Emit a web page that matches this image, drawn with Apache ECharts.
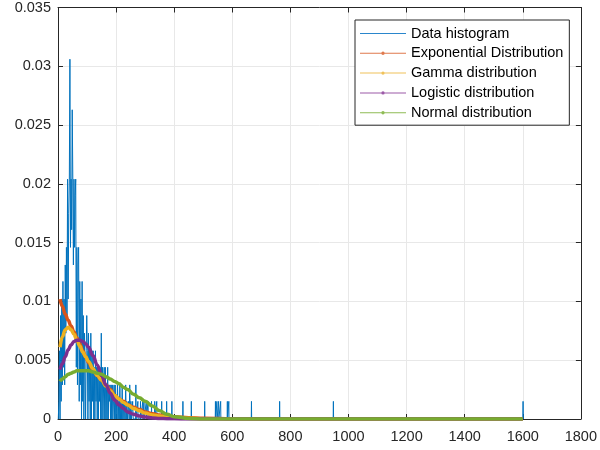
<!DOCTYPE html>
<html>
<head>
<meta charset="utf-8">
<script src="https://cdn.jsdelivr.net/npm/echarts@6/dist/echarts.min.js"></script>
<style>
html,body{margin:0;padding:0;background:#fff;}
#chart{width:600px;height:450px;}
</style>
</head>
<body>
<div id="chart"></div>
<script>
// ---- Data histogram (dense part: bin centers and densities) ----
const histBinCenters = [1,3,5,7,9,11,13,15,17,19,21,23,25,27,29,31,33,35,37,39,41,43,45,47,49,51,53,55,57,59,61,63,65,67,69,71,73,75,77,79,81,83,85,87,89,91,93,95,97,99,101,103,105,107,109,111,113,115,117,119,121,123,125,127,129,131,133,135,137,139,141,143,145,147,149,151,153,155,157,159,161,163,165,167,169,171,173,175,177,179,181,183,185,187,189,191,193,195,197,199,201,203,205,207,209,211,213,215,217,219,221,223,225,227,229,231,233,235,237,239,241,243,245,247,249,251,253,255,257,259];
const histDensity = [
  0,0.0015,0.0058,0,0.0088,0.0015,0.0102,0.0029,0.0117,0.0044,
  0.0102,0.0029,0.0131,0.0073,0.0146,0.0088,0.0204,0.0102,0.0175,0.0204,
  0.0306,0.0146,0.0204,0.0161,0.0263,0.0204,0.0131,0.0204,0.0146,0.0190,
  0.0204,0.0044,0.0146,0.0029,0.0131,0.0146,0.0015,0.0117,0.0029,0.0102,
  0,0.0117,0.0015,0.0088,0,0.0073,0.0073,0,0.0058,0.0088,
  0.0058,0,0.0073,0.0015,0.0058,0,0.0073,0,0.0058,0.0015,
  0.0058,0,0.0044,0,0.0058,0.0015,0.0044,0,0.0044,0,
  0.0044,0.0015,0.0044,0,0.0073,0,0.0044,0,0.0029,0.0044,
  0,0.0044,0,0.0029,0,0.0044,0,0.0029,0.0015,0.0029,
  0,0.0029,0,0.0029,0,0.0015,0.0029,0,0.0029,0,
  0.0015,0,0.0029,0,0.0015,0,0.0029,0,0.0015,0,
  0.0029,0,0.0015,0,0.0015,0,0.0029,0,0.0015,0,
  0,0.0015,0,0.0029,0,0.0015,0,0,0.0015,0
];
// ---- Data histogram (sparse tail: isolated bins) ----
const tailBinCenters = [268,275,284,292,296,304,310,322,333,340,357,374,392,430,459,505,542,547,553,560,583,588,666,763,948,1601];
const tailDensity = [0.0029,0.0015,0.0015,0.0015,0.0015,0.0015,0.0015,0.0015,0.0015,0.0015,0.0015,0.0015,0.0015,0.0015,0.0015,0.0015,0.0015,0.0015,0.0015,0.0015,0.0015,0.0015,0.0015,0.0015,0.0015,0.0015];

// ---- Fitted distribution curves ----
const curveX = [7,15,25,35,45,55,65,75,85,95,105,120,135,150,165,180,195,210,225,240,260,280,300,325,350,375,400,450,500,600,700,800,1000,1200,1400,1600];
const expPdf = [0.0102,0.0096,0.0089,0.0084,0.0079,0.0074,0.0069,0.0064,0.0058,0.0053,0.0048,0.0042,0.0037,0.0033,0.0029,0.0025,0.0020,0.0017,0.0015,0.0012,0.0010,0.0008,0.0006,0.00045,0.00033,0.00025,0.00019,0.00011,0.00007,0.00003,0.00001,0,0,0,0,0];
const gammaPdf = [0.0061,0.0070,0.0076,0.0078,0.0076,0.0072,0.0067,0.0062,0.0057,0.0053,0.0049,0.0043,0.0037,0.0033,0.0028,0.0024,0.0020,0.0017,0.0014,0.0012,0.0009,0.0007,0.0005,0.00035,0.00025,0.00017,0.00012,0.00006,0.00003,0.00001,0,0,0,0,0,0];
const logisticPdf = [0.0042,0.0047,0.0053,0.0059,0.0063,0.0066,0.0067,0.0067,0.0066,0.0064,0.0061,0.0054,0.0046,0.0037,0.0029,0.0022,0.0016,0.0012,0.0009,0.0006,0.0004,0.00025,0.00016,0.00009,0.00005,0.00003,0.00002,0,0,0,0,0,0,0,0,0];
const normalPdf = [0.0032,0.0034,0.0036,0.0038,0.0039,0.0040,0.0041,0.0041,0.0041,0.0041,0.0041,0.0040,0.0039,0.0038,0.0036,0.0034,0.0032,0.0030,0.0027,0.0025,0.0021,0.0018,0.0015,0.0011,0.0007,0.0004,0.0002,0.00005,0.00001,0,0,0,0,0,0,0];

const seriesNames = ['Data histogram','Exponential Distribution','Gamma distribution','Logistic distribution','Normal distribution'];
const colors = ['#0072BD','#D95319','#EDB120','#7E2F8E','#77AC30'];
const legendColors = ['#2a86cc','#e07a4e','#f0c25a','#9c5aa8','#8fbc55'];

const xTicks = {min:0, max:1800, interval:200};
const yTicks = {min:0, max:0.035, interval:0.005};

// build histogram polyline
const histData = [];
for (let i = 0; i < histBinCenters.length; i++) histData.push([histBinCenters[i], histDensity[i]]);
histData.push([histBinCenters[histBinCenters.length-1] + 1, 0]);
for (let i = 0; i < tailBinCenters.length; i++) {
  histData.push([tailBinCenters[i] - 0.7, 0]);
  histData.push([tailBinCenters[i], tailDensity[i]]);
  histData.push([tailBinCenters[i] + 0.7, 0]);
}
function pairs(xs, ys){ return xs.map((x,i)=>[x, ys[i]]); }

const lineIcon = 'path://M0,6.5L46,6.5L46,7.7L0,7.7Z';
const dotIcon = 'path://M0,6.5L46,6.5L46,7.5L0,7.5Z M23,5.3A1.7,1.7 0 1,1 22.99,5.3Z';
const fontFam = '"Liberation Sans", Arial, sans-serif';

const axisCommon = {
  axisLine:{show:true, onZero:false, lineStyle:{color:'#262626', width:1}},
  axisTick:{show:true, inside:true, length:5, lineStyle:{color:'#262626', width:1}},
};

const chart = echarts.init(document.getElementById('chart'), null, {renderer:'canvas'});
chart.setOption({
  animation:false,
  backgroundColor:'#fff',
  color: colors,
  grid:{left:58, right:18, top:7, bottom:31, containLabel:false},
  legend:{
    orient:'vertical', left:355, top:20,
    padding:[6,6,5,5], itemGap:4.8, itemWidth:46, itemHeight:14,
    backgroundColor:'#fff', borderColor:'#262626', borderWidth:1, borderRadius:0,
    textStyle:{fontFamily:fontFam, fontSize:14.5, color:'#000', lineHeight:14},
    data:seriesNames.map((n,i)=>({name:n, icon: i===0 ? lineIcon : dotIcon,
      itemStyle:{color:legendColors[i], borderWidth:0}}))
  },
  xAxis:[
    Object.assign({type:'value', position:'bottom', min:xTicks.min, max:xTicks.max, interval:xTicks.interval,
      axisLabel:{show:true, margin:10, fontFamily:fontFam, fontSize:14.5, color:'#262626', formatter:v=>String(v)},
      splitLine:{show:true, lineStyle:{color:'#e8e8e8', width:1}}}, axisCommon),
    Object.assign({type:'value', position:'top', min:xTicks.min, max:xTicks.max, interval:xTicks.interval,
      axisLabel:{show:false}, splitLine:{show:false}}, axisCommon)
  ],
  yAxis:[
    Object.assign({type:'value', position:'left', min:yTicks.min, max:yTicks.max, interval:yTicks.interval,
      axisLabel:{show:true, margin:7, fontFamily:fontFam, fontSize:14.5, color:'#262626'},
      splitLine:{show:true, lineStyle:{color:'#e8e8e8', width:1}}}, axisCommon),
    Object.assign({type:'value', position:'right', min:yTicks.min, max:yTicks.max, interval:yTicks.interval,
      axisLabel:{show:false}, splitLine:{show:false}}, axisCommon)
  ],
  series:[
    {name:'histogram-bins', type:'line', data:histData, showSymbol:false, symbol:'none', color:colors[0],
      itemStyle:{color:colors[0]}, lineStyle:{color:colors[0], width:1}, z:2},
    {name:seriesNames[0], type:'line', data:[], showSymbol:false, symbol:'none', color:legendColors[0],
      itemStyle:{color:legendColors[0]}, lineStyle:{color:legendColors[0], width:1}, z:2},
    {name:seriesNames[1], type:'line', data:pairs(curveX, expPdf), showSymbol:false, symbol:'none', smooth:0.4, smoothMonotone:'x',
      itemStyle:{color:colors[1]}, lineStyle:{color:colors[1], width:3.5}, z:3},
    {name:seriesNames[2], type:'line', data:pairs(curveX, gammaPdf), showSymbol:false, symbol:'none', smooth:0.4, smoothMonotone:'x',
      itemStyle:{color:colors[2]}, lineStyle:{color:colors[2], width:3.5}, z:4},
    {name:seriesNames[3], type:'line', data:pairs(curveX, logisticPdf), showSymbol:false, symbol:'none', smooth:0.4, smoothMonotone:'x',
      itemStyle:{color:colors[3]}, lineStyle:{color:colors[3], width:3.5}, z:5},
    {name:seriesNames[4], type:'line', data:pairs(curveX, normalPdf), showSymbol:false, symbol:'none', smooth:0.4, smoothMonotone:'x',
      itemStyle:{color:colors[4]}, lineStyle:{color:colors[4], width:3.5}, z:6}
  ]
});
</script>
</body>
</html>
